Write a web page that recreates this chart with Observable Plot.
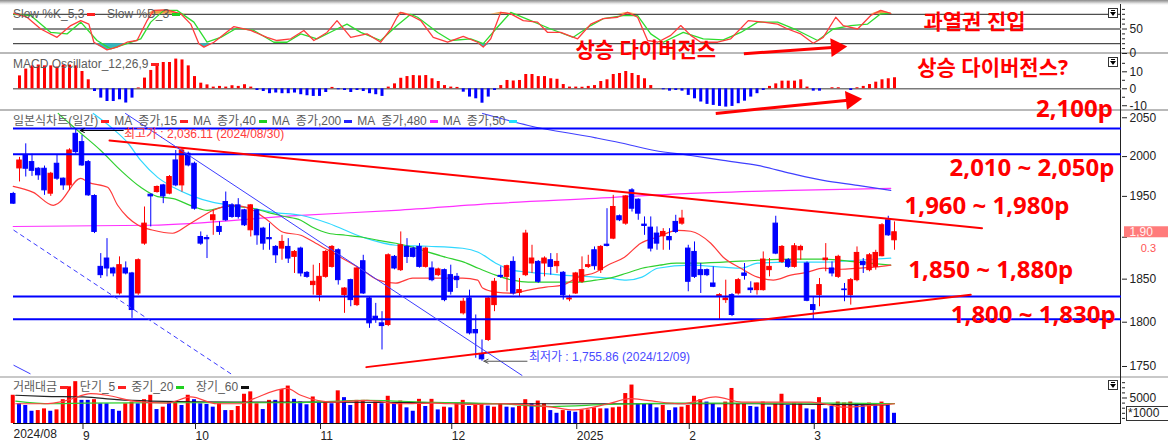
<!DOCTYPE html>
<html lang="ko"><head><meta charset="utf-8">
<script src="https://cdn.jsdelivr.net/npm/d3@7"></script>
<script src="https://cdn.jsdelivr.net/npm/@observablehq/plot@0.6"></script>
<style>
html,body{margin:0;padding:0;background:#fff;}
#root{position:relative;width:1168px;height:448px;overflow:hidden;background:#fff;font-family:"Liberation Sans",Arial,"Noto Sans CJK KR",sans-serif;}
.sep{position:absolute;left:0;width:1168px;height:2px;background:#b9b9b9;}
.leg{position:absolute;left:13px;font-size:12px;line-height:14px;color:#5c5c5c;white-space:pre;display:flex;align-items:center;z-index:5;}
.mk{display:inline-block;width:8px;height:3px;margin:0 5px 0 3px;}
.icon{position:absolute;left:1108px;width:8px;height:8px;border:1px solid #333;background:#fff;z-index:6;}
.icon::before{content:"";position:absolute;left:2px;top:1px;width:4px;height:1px;background:#000;}
.icon::after{content:"";position:absolute;left:1px;top:3px;border-left:3px solid transparent;border-right:3px solid transparent;border-top:4px solid #000;}
</style></head>
<body><div id="root"></div>
<script>
// ---------------- DATA ----------------
// candle index: -1 .. 140 (trading days, 2024/08/16 .. 2025/03/20)
const open = [1953,1985,2001.5,1993,1984.6,1984.6,1953.4,1990.9,1972.1,1963.7,2029.2,
2018.5,1993,1950.5,1864.5,1874.4,1862.6,1833.2,1862.6,1856.7,1833.2,
1892.3,1952.1,1955.4,1963.7,1953.4,1995.1,1963.7,2003.6,1990.9,1900.3,
1899,1920.6,1912.5,1943,1938.9,1938.9,1932.8,1908.4,1932.8,1910.4,
1899,1888.3,1886.3,1888.3,1876.4,1886.3,1857.4,1843,1831.3,1852.7,
1864.5,1884.3,1831.3,1848.8,1819.7,1871.2,1827.4,1806.3,1798.7,1796.8,
1876.4,1860.6,1888.3,1886.3,1888.3,1864.5,1862.6,1854.7,1860.6,1854.7,
1852.7,1810.2,1827.4,1791.1,1762.9,1779.8,1819.7,1853.9,1852.7,1870.4,
1834,1854.7,1868.5,1870.4,1868.5,1872.4,1865.3,1857.5,1826.3,1833.2,
1846.9,1864.5,1884.3,1860.6,1891,1898.3,1925.5,1916.5,1957.5,1945.9,
1915.3,1911.6,1904.4,1901.1,1900.3,1918.6,1916.5,1886.3,1882.3,1860.6,
1860.6,1844.9,1829.4,1825.5,1831.3,1833.2,1856.7,1839,1837.1,1837.1,
1860.6,1916.5,1870.4,1872.4,1864.5,1884.3,1868.5,1819.7,1831.3,1872.4,
1862.6,1852.7,1837.9,1831.3,1848.8,1870.4,1860.6,1864.5,1877.2,1920.6,
1896.3];
const high = [1955,1999,2016.3,2003,1986,1988,1980,2001.5,1973,2010,2036.11,
2027,1995,1952,1880.3,1898.3,1864,1876.4,1870.4,1858,1874,
1936.9,1953,1963,1965,1976,2007.8,2010,2005.7,1993,1906.4,
1902.3,1932.8,1918.6,1955.4,1941,1947.2,1934,1940,1934,1912,
1916.5,1890,1902.3,1898.3,1884,1888,1859,1866.5,1868.5,1884,
1890,1886,1840,1850,1864,1878.3,1829,1821.7,1812.1,1880,
1878,1906.4,1898.3,1888,1892.3,1888,1870.4,1863,1862,1866.5,
1856.7,1827.4,1837.1,1808.3,1779.8,1829,1850.8,1864.5,1866.5,1876.4,
1850.8,1908.4,1890.3,1872,1876.4,1880.3,1880.3,1859,1831.3,1858,
1876.4,1878.3,1888.3,1890,1934.8,1951.3,1927,1951,1959.6,1947,
1924.7,1924.7,1912.5,1910.4,1910.4,1926.7,1932.8,1890.3,1894.3,1868.5,
1862,1864.5,1833,1848.8,1833,1850.8,1868.5,1846.9,1845.5,1882.3,
1874.4,1925.5,1890,1874.4,1892.3,1890.3,1870.4,1829.4,1850.8,1892.3,
1870.4,1878.3,1844.9,1850.8,1888.3,1874.4,1880.3,1884.3,1916.5,1925.5,
1918.6];
const low = [1940,1968,1974.2,1975,1970,1951.3,1950,1970,1957.5,1957.5,2003,
1987.5,1950,1904.4,1850.8,1852.7,1852.7,1831.3,1855,1804.4,1831,
1890.3,1912.5,1954,1941,1952,1962,1955.4,1987,1933,1890.3,
1874.4,1902.3,1902.3,1919,1923,1922,1913,1900.3,1890.3,1884.3,
1884.3,1868.5,1872.4,1868.5,1856.7,1852.7,1851,1831.3,1823.6,1851,
1863,1843,1810.2,1817.8,1818,1832,1793,1798.7,1768.5,1795,
1861,1859,1868.5,1875,1863,1863,1846.9,1853,1823.6,1831.3,
1839,1808.3,1785.5,1759.2,1755.86,1778,1812.1,1850.8,1835.2,1831.3,
1829.4,1853,1856.7,1845,1852.7,1854.7,1856.7,1825.5,1823.6,1832,
1844.9,1862.6,1860.6,1856.7,1888.3,1897,1919,1914.5,1930.7,1920.6,
1902.3,1882.3,1884.3,1884.3,1884.3,1904.4,1914.5,1835.2,1850.8,1833.2,
1853,1840,1802.5,1821.7,1806.4,1831.3,1848.8,1833.2,1831.3,1836,
1852.7,1879,1868.5,1862.6,1863,1872.4,1823.6,1802.5,1817.8,1858.7,
1852.7,1850.8,1823.6,1819.7,1846.9,1856.7,1858.7,1860.6,1876.4,1901,
1884.3];
const close = [1941,1995,1984.6,1982,1976.3,1957.5,1978.3,1972.1,1963.7,2007.8,2005.7,
1988.8,1951.3,1906.4,1854.7,1862.6,1856.7,1866.5,1856.7,1814,1872.4,
1916.5,1950,1961.7,1950,1974.2,1963.7,2007.8,1988.8,1934.8,1892.3,
1897.5,1926.7,1906.4,1920.6,1924.7,1924.7,1914.5,1938.9,1902.3,1892.3,
1897.5,1878.3,1894.3,1874.4,1882.3,1856.7,1852.7,1846.9,1852.7,1882.3,
1888.3,1848.8,1839,1825.5,1862.6,1833.2,1798.7,1802.5,1795.6,1878.3,
1862.6,1890.3,1876.4,1876.4,1864.5,1886.3,1848.8,1861.4,1825.5,1835.2,
1848.8,1823.6,1787.3,1787.3,1758,1827.4,1846.9,1852.7,1865.3,1833.2,
1837.1,1904.4,1874.4,1846.9,1874.4,1864.5,1870.4,1831.3,1827.4,1856.7,
1860.6,1866.5,1865.3,1888.3,1889.5,1936.9,1920.6,1950,1934.8,1928.7,
1913.7,1886.3,1892.3,1906.4,1896.3,1906.4,1922.6,1846.9,1852.7,1854.7,
1854.7,1841,1831.3,1827.4,1808.3,1848.8,1853.9,1837.1,1844.9,1873.2,
1864.5,1880.3,1888.3,1864.5,1889.1,1888.3,1824.7,1814,1843,1874.4,
1856.7,1876.4,1837.1,1848.8,1881.1,1866.5,1878.3,1881.1,1914.5,1902.3,
1906];
// trading value (x1000), index -1 .. 140
const volume = [5536,3869,3535,2401,2535,2868,2401,2668,4669,7204,
8204,4536,4536,4669,3869,3869,2735,2401,3869,4202,
3869,4669,5536,2735,3202,4202,4202,3535,5536,4669,
3869,3735,3202,3869,2535,2535,3335,5736,6203,3869,
2735,4536,4536,6670,7337,4736,4202,3669,5203,4002,
4202,3869,6403,5069,3535,4536,4536,3735,4202,3869,
5336,3869,4402,3068,2401,4736,3335,4736,2668,3202,
3068,3869,4536,3335,3669,3869,3402,3202,
3869,3202,3068,3335,4669,3869,4402,3869,2535,2001,
2535,2401,2201,2668,2668,3068,2868,2868,3068,3202,
5870,7537,3869,3869,3869,3068,3535,2535,3068,3202,
3535,5336,4669,4202,3869,3068,4202,6870,3869,3869,
3335,3202,4202,3202,3869,5736,3535,4002,3869,2868,
2668,5069,2868,3335,4202,4002,4202,3869,3535,4002,
3869,4202,3869,2001];
const volumeColor = "RBBBRRBRRRRBBRBBBBRRBRRBRBRBRBBBBRBRRRRRBRBRRBBBRBRBRBBRRBRBRBRBBRBRBRBRRBRRBR" +
                    "RBBRRBRRBBRBBRRRRBRRRRBBBBRBBRRRRBBBRRRRBBRBRRBRRBBRBBRRRBBRBRBB";
const volMA5 = [[-0.6,3869],[3.9,3869],[7.6,4536],[11.4,5870],[14,5536],[18.3,4402],[23.6,4002],[27.4,5203],[31.6,3869],[35.4,3869],[37.5,4869],[42.8,6870],[45,5536],[50.3,4202],[55.6,4536],[61,3869],[66.3,4002],[71.6,3735],[77,3869],[85.2,3202],[88.7,2668],[94.2,3869],[97.7,4869],[100.4,4536],[106,3869],[111.4,5203],[115.6,4202],[121.8,4202],[126.6,4202],[132.1,3202],[136.3,3535],[140,3869]];
const volMA20 = [[-0.6,4402],[5,3869],[10.3,4002],[21,4069],[34.3,4069],[42.3,4069],[55.6,4536],[66.3,4135],[77,3869],[85.2,3335],[94.2,3735],[104.5,4002],[118.3,4002],[132.1,4002],[140,3900]];
const volMA60 = [[-0.6,5536],[3.9,5336],[10.3,5203],[15.6,4669],[21,4402],[34.3,4202],[50.3,4202],[68.4,4069],[77,3869],[86.6,3869],[97.6,3869],[118.3,3869],[139,3669]];
// price moving averages [index, value]
const ma15 = [[-1,1962.5],[2.2,1955],[5.4,1939],[6.2,1941.4],[9.8,1972.4],[11,1967.5],[14.1,1961.3],[15.7,1939],[17.3,1924.3],[19,1914.5],[21.4,1908.4],[24.5,1904.8],[26.9,1914.5],[29,1924.3],[31,1932.8],[34.2,1939],[37.4,1932.8],[39.7,1920.6],[42.2,1906],[45,1902.4],[47.4,1892.7],[49.4,1884.3],[52.2,1872.4],[54.9,1860.6],[57.4,1848.8],[60.2,1845.3],[62.9,1851.2],[66.6,1851.2],[70.9,1851.2],[73.3,1848.8],[74.1,1839.5],[76.2,1834.8],[78.9,1833.6],[81.4,1837.1],[84.2,1840.6],[86.9,1843],[89.4,1852.4],[92.2,1858.2],[94.1,1866.5],[96.8,1876],[99.4,1892.7],[102.1,1900.3],[105.3,1908.4],[107.4,1907.2],[110.6,1892.7],[112.6,1876],[115.4,1862.9],[118.1,1852.4],[120.6,1848.8],[123.4,1854.7],[126.1,1858.2],[128.6,1862.9],[131.4,1861.7],[134.1,1862.9],[136.8,1864.1],[139.4,1866.5]];
const ma40 = [[6.2,2055.6],[9.3,2033.5],[13,2007.8],[16.2,1982.5],[19.4,1961.3],[22.1,1949.8],[24.6,1947.3],[27.8,1937.5],[30.1,1932.8],[33.3,1937.5],[36.5,1936.3],[39.7,1930.3],[42.2,1925.5],[45,1920.6],[46.9,1912.1],[49.4,1904.8],[52.2,1902.4],[54.9,1900],[57.4,1896.3],[60.2,1892.7],[62.9,1888],[65.4,1882],[68.2,1876],[71.1,1870.1],[73.4,1862.9],[76.2,1854.7],[78.9,1848.8],[81.4,1846.5],[84.2,1846.5],[86.9,1846.5],[89.4,1846.5],[92.2,1848.8],[94.4,1851.2],[97.1,1857],[99.6,1862.9],[102.4,1866.5],[105.1,1868.9],[107.4,1868.9],[112.6,1870.1],[118.1,1872.4],[123.4,1873.7],[128.6,1873.7],[134.1,1870.1],[139.4,1866.5]];
const ma50 = [[11.8,2055.6],[14.6,2038],[17.3,2017.7],[19.4,1995.1],[22.1,1973.7],[24.6,1961.3],[27.4,1951.3],[31,1942.6],[34.2,1939],[37.4,1935.2],[40.6,1930.3],[45,1926.7],[49.4,1917],[54.9,1900],[60.2,1890.3],[65.4,1889.1],[70.9,1886.7],[73.4,1882],[76.2,1868.9],[78.9,1860.6],[81.4,1858.2],[86.9,1854.7],[92.2,1852.4],[94.4,1851.2],[97.1,1848.8],[99.6,1852.4],[102.1,1862.9],[107.4,1866.5],[112.6,1864.1],[115.4,1862.9],[118.1,1868.9],[123.4,1870.1],[128.6,1870.1],[134.1,1872.4],[139.4,1874.8]];
const ma200 = [[74.1,2055.6],[81.4,2040],[92.2,2024],[96.1,2017.7],[101.6,2007.8],[107.4,2001.4],[112.6,1995.1],[118.1,1988.8],[123.4,1978.8],[128.6,1970],[134.1,1963.8],[139.4,1957.5]];
const ma480 = [[-1,1913],[21,1914.5],[45,1926.7],[60.2,1932.8],[76.2,1941.4],[92.2,1947.6],[107.4,1953.8],[123.4,1957.5],[139.4,1960]];
// support / resistance and trend lines
const levels = [2036.11, 2003, 1829.7, 1803.5];
const upperTrend = [[14.4,2020.6],[154,1911]];
const lowerTrend = [[55.5,1749.3],[152.2,1831.7]];
const downTrend = [[16.96,2055.6],[80.4,1740.1]];
const channelDash = [[-0.9,1908.4],[33.8,1742]];
const channelLow = [[-0.9,1751.3],[1.7,1742]];
// MACD oscillator, index 0 .. 140
const macd = [7.6,11.6,13.5,14,13.5,13.5,12.8,14,14,13.5,10.2,5.3,-1.6,-5.5,-7.5,-7.5,-6.5,-8.4,-5.5,0.5,
6.3,10.8,13.5,15.5,15.5,17.5,17,13.5,7.2,3.3,2.3,1,1.4,1,1.8,1.4,2.4,1,-1,-1.6,
-2.9,-2.5,-2.9,-2.9,-2.5,-3.5,-4.1,-4.5,-4.5,-2.2,0.8,-0.6,-1,-2.2,-1,-1.6,-2.9,-3.5,-4.5,1,
2.9,6.2,7.2,7.8,7.6,7.8,5.9,4.3,1.9,1,0.8,-2,-4.9,-5.9,-8.5,-4.9,-1,1.9,4.9,4.6,
4.9,8.4,8.4,7.2,7.2,5.9,5.6,2.5,1,1,0.9,1.4,1.9,4.3,5.3,8.4,9,10.2,9,7.8,
5.9,1.9,0,-0.6,-1.4,-1,-1.4,-3.9,-5.9,-7.8,-9.2,-9.8,-10.4,-10.8,-10.4,-8.8,-7.3,-4.9,-2.9,-1,
1.4,2.9,4.5,4.5,4.5,5.3,1,-1.4,-1.4,0,0.6,0.6,0,-1,0.6,1.4,2.5,3.9,5.3,5.9,6.5];
// slow stochastic [index, value]
const slowK = [[-0.9,82],[1.2,74],[3.4,50],[6,33],[8.2,57],[9.8,67],[11.1,60],[11.9,23],[14,7.5],[15.6,13],[17.2,23],[18.8,26.5],[20.4,67],[21.5,88],[23.6,89],[25.8,81],[27.4,60],[28.7,20],[29.5,13],[31.1,23],[34.3,55],[37,47],[39.6,33],[41.2,26.5],[43.4,30],[45.5,47],[47.1,26.5],[49.2,43],[50.8,67],[53,33],[55.6,40],[57.8,23],[59.4,50],[60.4,74],[61,84],[62.6,77.5],[64.2,67],[66.2,33],[68.5,23],[71,35],[73.3,23],[74.2,13],[75.4,30],[77,84],[78.6,81],[80.6,67],[82.9,64],[84.5,43],[86.6,43],[89.3,30],[91.4,60],[93.4,71],[95.7,74],[97.3,84],[98.9,74],[100.5,26.5],[102.1,23],[104.2,37],[105.8,57],[107.4,37],[109,23],[111.7,23],[113.8,30],[116.6,67],[119,64],[121.3,60],[122.9,50],[125,40],[127,21],[128.6,33],[130.6,74],[131.8,57],[134.1,50],[136.2,77.5],[137.8,88],[139.4,82]];
const slowD = [[-0.9,80],[1.8,77.5],[5,43],[7.6,40],[9.8,64],[12.4,26.5],[14.6,9.5],[17.2,20],[19.4,30],[21,64],[23.1,88],[25.2,88],[27.9,64],[30,23],[32.2,33],[34.8,52],[37.5,47],[40.7,23],[42.8,23],[45,40],[47.6,30],[50.3,47],[52.4,60],[54.6,43],[57.8,26.5],[60.4,57],[62.6,80],[63.7,74],[66.9,43],[69,26.5],[72.2,30],[74.2,20],[76.5,54],[78.6,84],[81.8,67],[85,50],[88.6,33],[91.4,57],[93.4,71],[96.6,77.5],[98.9,77.5],[101,40],[103,23],[106.2,43],[109.4,30],[112.6,28],[115.4,43],[118.1,64],[121.3,64],[124.5,47],[127.7,26.5],[130.2,50],[133,57],[135.7,60],[137.8,81],[139.4,82]];
// x axis (month starts, candle index)
const monthTicks = [10, 28, 48, 69, 89, 107, 127];
const monthLabels = ["9", "10", "11", "12", "2025", "2", "3"];
const priceTicks = [1750, 1800, 1850, 1900, 1950, 2000, 2050];

// ---------------- DRAW ----------------
const root = document.getElementById("root");
const W = 1168, ML = 13, MR = 47, XD = [-0.96, 176.32];
const RED = "#ff0000", BLUE = "#0000ff";
const KFONT = "'Noto Sans','Noto Sans CJK KR',sans-serif";
const SFONT = "'Liberation Sans',Arial,'Noto Sans CJK KR',sans-serif";
function base(h, mb = 0) {
  return {width: W, height: h, marginLeft: ML, marginRight: MR, marginTop: 0, marginBottom: mb,
    x: {domain: XD, axis: null},
    style: {background: "transparent", overflow: "visible", color: "#222", fontSize: "12px", fontFamily: SFONT}};
}
function place(svg, top) { svg.style.position = "absolute"; svg.style.left = "0px"; svg.style.top = top + "px"; root.appendChild(svg); }
function div(cls, css, html) { const d = document.createElement("div"); d.className = cls; d.style.cssText = css; if (html) d.innerHTML = html; root.appendChild(d); return d; }
const P = a => ({i: a[0], v: a[1]});
const ann = (t, size) => ({fill: RED, fontSize: size, fontWeight: "bold", fontFamily: KFONT, textAnchor: "middle", text: () => t});

// background decorations (behind)
div("", "position:absolute;left:0;top:0;width:1168px;height:5px;background:linear-gradient(#8a8a8a,#e6e6e6 70%,#fff);");
div("sep", "top:52px;");
div("sep", "top:109px;");
div("sep", "top:376px;background:#c8c8c8;");
div("", "position:absolute;left:1120px;top:4px;width:1px;height:420px;background:#222;");

const candles = open.map((o, k) => ({i: k - 1, o, h: high[k], l: low[k], c: close[k]}));
const ccol = d => d.c >= d.o ? RED : BLUE;

// --- Stochastic panel
const kData = slowK.map(P), dData = slowD.map(P);
place(Plot.plot({...base(49), y: {domain: [0, 100], axis: null}, marks: [
  Plot.ruleY([20, 80], {stroke: "#222", strokeWidth: 1}),
  Plot.ruleY([50], {stroke: "#8a8a8a", strokeWidth: 2}),
  Plot.areaY(kData, {x: "i", y1: 80, y2: d => Math.max(80, d.v), fill: "#f0a048"}),
  Plot.areaY(kData, {x: "i", y1: d => Math.min(20, d.v), y2: 20, fill: "#38b8c0"}),
  Plot.line(dData, {x: "i", y: "v", stroke: "#2fdc2f", strokeWidth: 1.3}),
  Plot.line(kData, {x: "i", y: "v", stroke: "#ff3c3c", strokeWidth: 1.3}),
  Plot.axisY({anchor: "right", ticks: [0, 50], tickSize: 5, tickPadding: 3, tickFormat: d => String(d), label: null}),
  Plot.axisY({anchor: "right", ticks: [10, 20, 30, 40, 60, 70, 80, 90], tickSize: 3, tickFormat: () => "", label: null}),
  Plot.text([{i: 152.8, v: 63.3}], {x: "i", y: "v", ...ann("과열권 진입", 21)}),
  Plot.text([{i: 100.2, v: 6.1}], {x: "i", y: "v", ...ann("상승 다이버전스", 21)}),
  Plot.link([{x1: 115.9, y1: -0.6, x2: 130.6, y2: 12.7}], {x1: "x1", y1: "y1", x2: "x2", y2: "y2", stroke: RED, strokeWidth: 3}),
  Plot.dot([{i: 130.7, v: 12.8}], {x: "i", y: "v", symbol: "triangle", r: 7, fill: RED, rotate: 86})
]}), 4);

// --- MACD panel
const macdData = macd.map((v, i) => ({i, v}));
place(Plot.plot({...base(56), y: {domain: [-12.8, 20.2], axis: null}, marks: [
  Plot.ruleY([0], {stroke: "#7a7a7a", strokeWidth: 1.5}),
  Plot.ruleX(macdData, {x: "i", y1: 0, y2: "v", stroke: d => d.v >= 0 ? RED : BLUE, strokeWidth: 3}),
  Plot.axisY({anchor: "right", ticks: [-10, 0, 10], tickSize: 5, tickPadding: 3, tickFormat: d => String(d), label: null}),
  Plot.axisY({anchor: "right", ticks: [-5, 5, 15], tickSize: 3, tickFormat: () => "", label: null}),
  Plot.text([{i: 155.7, v: 11.9}], {x: "i", y: "v", ...ann("상승 다이버전스?", 21)}),
  Plot.link([{x1: 111.4, y1: -14.5, x2: 133.0, y2: -6.6}], {x1: "x1", y1: "y1", x2: "x2", y2: "y2", stroke: RED, strokeWidth: 3}),
  Plot.dot([{i: 133.1, v: -6.5}], {x: "i", y: "v", symbol: "triangle", r: 7, fill: RED, rotate: 84})
]}), 54);

// --- Main candle panel
const lastClose = close[close.length - 1];
place(Plot.plot({...base(265), y: {type: "log", domain: [1738.9, 2058.2], axis: null}, marks: [
  Plot.line(ma480, {x: d => d[0], y: d => d[1], stroke: "#ff30ff", strokeWidth: 1.2, curve: "monotone-x"}),
  Plot.line(ma200, {x: d => d[0], y: d => d[1], stroke: "#4040ff", strokeWidth: 1.2, curve: "monotone-x"}),
  Plot.line(ma50, {x: d => d[0], y: d => d[1], stroke: "#30d8ff", strokeWidth: 1.2, curve: "monotone-x", clip: true}),
  Plot.line(ma40, {x: d => d[0], y: d => d[1], stroke: "#30d030", strokeWidth: 1.2, curve: "monotone-x", clip: true}),
  Plot.line(ma15, {x: d => d[0], y: d => d[1], stroke: "#ff3a3a", strokeWidth: 1.2, curve: "monotone-x"}),
  Plot.ruleX(candles, {x: "i", y1: "l", y2: "h", stroke: ccol, strokeWidth: 1}),
  Plot.rect(candles, {x1: d => d.i - 0.36, x2: d => d.i + 0.36, y1: "o", y2: "c", fill: ccol, stroke: ccol, strokeWidth: 1}),
  Plot.ruleY(levels, {stroke: BLUE, strokeWidth: 2}),
  Plot.line(upperTrend, {x: d => d[0], y: d => d[1], stroke: RED, strokeWidth: 2}),
  Plot.line(lowerTrend, {x: d => d[0], y: d => d[1], stroke: RED, strokeWidth: 2}),
  Plot.line(downTrend, {x: d => d[0], y: d => d[1], stroke: "#3c3cff", strokeWidth: 1, clip: true}),
  Plot.line(channelDash, {x: d => d[0], y: d => d[1], stroke: "#3c3cff", strokeWidth: 1, strokeDasharray: "4,4", clip: true}),
  Plot.line(channelLow, {x: d => d[0], y: d => d[1], stroke: "#3c3cff", strokeWidth: 1, clip: true}),
  Plot.arrow([{x1: 16.6, x2: 9.7, y: 2033.5}], {x1: "x1", x2: "x2", y1: "y", y2: "y", stroke: "#000", strokeWidth: 1, headLength: 7, headAngle: 50}),
  Plot.text([{i: 16.7, p: 2028.3}], {x: "i", y: "p", text: () => "최고가 : 2,036.11 (2024/08/30)", fill: "#ff3a3a", fontSize: 12, textAnchor: "start", fontFamily: SFONT}),
  Plot.arrow([{x1: 81.2, x2: 74.3, y: 1755.86}], {x1: "x1", x2: "x2", y1: "y", y2: "y", stroke: "#555", strokeWidth: 1, headLength: 7, headAngle: 50}),
  Plot.text([{i: 81.5, p: 1760.2}], {x: "i", y: "p", text: () => "최저가 : 1,755.86 (2024/12/09)", fill: "#4a4aff", fontSize: 12, textAnchor: "start", fontFamily: SFONT}),
  Plot.text([{i: 168.8, p: 2060.5}], {x: "i", y: "p", ...ann("2,100p", 24)}),
  Plot.text([{i: 162.0, p: 1984.6}], {x: "i", y: "p", ...ann("2,010 ~ 2,050p", 24)}),
  Plot.text([{i: 154.8, p: 1937.5}], {x: "i", y: "p", ...ann("1,960 ~ 1,980p", 24)}),
  Plot.text([{i: 155.4, p: 1860.6}], {x: "i", y: "p", ...ann("1,850 ~ 1,880p", 24)}),
  Plot.text([{i: 162.2, p: 1807.7}], {x: "i", y: "p", ...ann("1,800 ~ 1,830p", 24)}),
  // 1900 label is hidden behind the current-price box, as in the source
  Plot.axisY({anchor: "right", ticks: priceTicks, tickSize: 5, tickPadding: 3, tickFormat: d => d === 1900 ? "" : String(d), label: null}),
  Plot.rect([{p: lastClose}], {x1: 176.8, x2: 184, y1: "p", y2: "p", insetTop: -5.5, insetBottom: -5.5, fill: "#ff7b7b"}),
  Plot.text([{p: lastClose}], {x: 177.6, y: "p", text: d => d3.format(",.0f")(d.p).slice(0, 4), fill: "#fff2f2", fontSize: 12, textAnchor: "start"}),
  Plot.text([{p: 1886}], {x: 179.4, y: "p", text: () => "0.3", fill: "#ff5555", fontSize: 11, textAnchor: "start"})
]}), 111);

// --- Volume panel + x axis
const volData = volume.map((v, k) => ({i: k - 1, v, up: volumeColor[k] === "R"}));
place(Plot.plot({...base(69, 25), y: {domain: [0, 8627], axis: null}, marks: [
  Plot.rect(volData, {x1: d => d.i - 0.32, x2: d => d.i + 0.32, y1: 0, y2: "v", fill: d => d.up ? RED : BLUE}),
  Plot.line(volMA60, {x: d => d[0], y: d => d[1], stroke: "#222", strokeWidth: 1.2, curve: "monotone-x"}),
  Plot.line(volMA20, {x: d => d[0], y: d => d[1], stroke: "#2fd02f", strokeWidth: 1.2, curve: "monotone-x"}),
  Plot.line(volMA5, {x: d => d[0], y: d => d[1], stroke: "#ff4040", strokeWidth: 1.2, curve: "monotone-x"}),
  Plot.ruleY([0], {stroke: "#111", strokeWidth: 1}),
  Plot.axisY({anchor: "right", ticks: [5000], tickSize: 5, tickPadding: 3, tickFormat: d => String(d), label: null}),
  Plot.axisY({anchor: "right", ticks: [1000, 2000, 3000, 4000, 6000, 7000, 8000], tickSize: 3, tickFormat: () => "", label: null}),
  Plot.axisX({ticks: monthTicks, tickFormat: d => monthLabels[monthTicks.indexOf(d)], tickSize: 6, tickPadding: 2, textAnchor: "start", dx: 1, fontSize: 12, label: null}),
  Plot.text(["2024/08"], {frameAnchor: "bottom-left", dy: 14, text: d => d, textAnchor: "start", fontSize: 12})
]}), 379);

// legends & small UI
div("leg", "top:7px;", 'Slow %K_5,3<span class="mk" style="background:#ff2020"></span>  Slow %D_3<span class="mk" style="background:#20d020"></span>');
div("leg", "top:57px;", 'MACD Oscillator_12,26,9<span class="mk" style="background:#ff2020"></span>');
div("leg", "top:114px;", '일본식차트(일간)<span class="mk" style="background:#ff2020"></span>MA  종가,15<span class="mk" style="background:#ff2020"></span>MA  종가,40<span class="mk" style="background:#20d020"></span>MA  종가,200<span class="mk" style="background:#2020ff"></span>MA  종가,480<span class="mk" style="background:#ff20ff"></span>MA  종가,50<span class="mk" style="background:#20e0ff"></span>');
div("leg", "top:380px;", '거래대금<span class="mk" style="background:#ff2020"></span>  단기_5<span class="mk" style="background:#ff2020"></span>중기_20<span class="mk" style="background:#20d020"></span>  장기_60<span class="mk" style="background:#111"></span>');
div("icon", "top:8px;");
div("icon", "top:57px;");
div("icon", "top:380px;");
div("", "position:absolute;left:1126px;top:406px;width:44px;height:13px;border:1px solid #333;font-size:12px;line-height:13px;color:#222;padding-left:1px;z-index:6;background:#fff;", "*1000");
</script></body></html>
